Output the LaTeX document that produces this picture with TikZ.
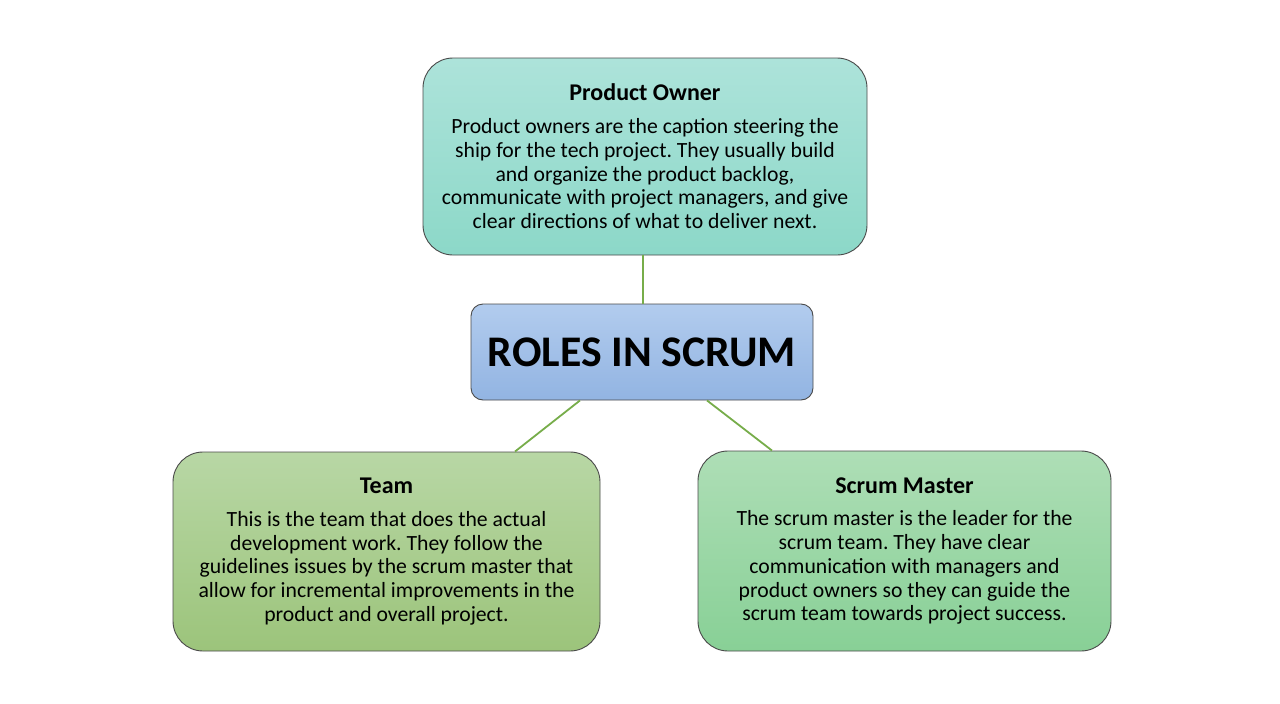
\documentclass[tikz,border=0pt]{standalone}
\usepackage{fontspec}
\setmainfont{Carlito}
\frenchspacing
\definecolor{bordc}{HTML}{4A4A4A}
\definecolor{linec}{HTML}{77AD4A}
\definecolor{poTop}{HTML}{ADE3DA}
\definecolor{poBot}{HTML}{8CD8C8}
\definecolor{ceTop}{HTML}{B2CCEE}
\definecolor{ceBot}{HTML}{92B4E2}
\definecolor{tmTop}{HTML}{B8D7A5}
\definecolor{tmBot}{HTML}{9CC47B}
\definecolor{smTop}{HTML}{AEDEB6}
\definecolor{smBot}{HTML}{88D096}
\tikzset{
  rolebox/.style={draw=bordc, line width=0.9pt, rounded corners=30pt, align=center, inner sep=0pt,
    font=\fontsize{21.7}{23.75}\selectfont},
  conn/.style={draw=linec, line width=1.8pt},
}
\newcommand{\roletitle}[1]{{\fontsize{24}{26}\selectfont\bfseries #1}\\[9pt]}
\begin{document}
\begin{tikzpicture}[x=1pt,y=-1pt]
\useasboundingbox (0,0) rectangle (1280,704);
\fill[white] (0,0) rectangle (1280,704);
\node[rolebox, top color=poTop, bottom color=poBot, minimum width=444pt, minimum height=197pt] (po) at (645,156.5)
 {\roletitle{Product Owner}Product owners are the caption steering the\\ship for the tech project. They usually build\\and organize the product backlog,\\communicate with project managers, and give\\clear directions of what to deliver next.};
\node[rolebox, rounded corners=12pt, top color=ceTop, bottom color=ceBot, minimum width=342pt, minimum height=96pt,
  font=\fontsize{43.7}{48}\selectfont\bfseries] (center) at (642,352) {ROLES IN SCRUM};
\node[rolebox, top color=tmTop, bottom color=tmBot, minimum width=427pt, minimum height=199pt] (team) at (386.5,551.5)
 {\roletitle{Team}This is the team that does the actual\\development work. They follow the\\guidelines issues by the scrum master that\\allow for incremental improvements in the\\product and overall project.};
\node[rolebox, top color=smTop, bottom color=smBot, minimum width=413pt, minimum height=200pt] (sm) at (904.5,551)
 {\roletitle{Scrum Master}The scrum master is the leader for the\\scrum team. They have clear\\communication with managers and\\product owners so they can guide the\\scrum team towards project success.};
\draw[conn] (po.south -| 643,0) -- (center.north -| 643,0);
\draw[conn] (center.south -| 580,0) -- (team.north -| 515,0);
\draw[conn] (center.south -| 707,0) -- (sm.north -| 772,0);
\end{tikzpicture}
\end{document}
